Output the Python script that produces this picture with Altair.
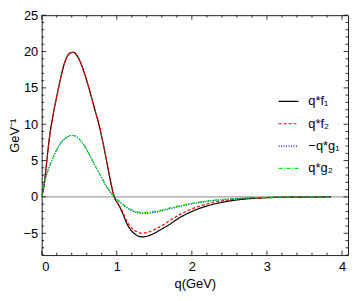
import altair as alt
import pandas as pd

q = [0, 0.03, 0.06, 0.1, 0.15, 0.2, 0.26, 0.32, 0.38, 0.42, 0.46, 0.5, 0.56, 0.62, 0.7, 0.78,
     0.86, 0.92, 0.97, 1.02, 1.08, 1.14, 1.2, 1.27, 1.34, 1.42, 1.5, 1.6, 1.7, 1.8, 1.9, 2.0,
     2.2, 2.4, 2.6, 2.8, 3.0, 3.2, 3.5, 3.85]
f1 = [0, 1.5, 4.2, 7.9, 11.2, 13.8, 16.7, 18.9, 19.8, 19.9, 19.6, 18.9, 17.3, 15.3, 12.3, 9.2,
      5.2, 2.0, -0.1, -1.0, -2.3, -3.8, -4.7, -5.3, -5.5, -5.35, -5.0, -4.4, -3.8, -3.1, -2.5, -2.0,
      -1.25, -0.75, -0.42, -0.22, -0.11, -0.05, -0.015, 0]
f2 = [0, 1.5, 4.2, 7.9, 11.2, 13.8, 16.7, 18.9, 19.8, 19.9, 19.6, 18.9, 17.3, 15.3, 12.3, 9.2,
      5.2, 2.0, -0.1, -0.95, -2.1, -3.45, -4.3, -4.8, -5.0, -4.85, -4.5, -3.95, -3.3, -2.65, -2.1, -1.65,
      -0.98, -0.56, -0.3, -0.16, -0.08, -0.04, -0.01, 0]
g1 = [0, 1.6, 2.9, 4.1, 5.4, 6.5, 7.5, 8.1, 8.42, 8.45, 8.3, 7.95, 7.2, 6.1, 4.5, 3.0,
      1.5, 0.6, -0.05, -0.52, -1.05, -1.55, -1.9, -2.15, -2.27, -2.25, -2.13, -1.92, -1.66, -1.4, -1.17, -0.95,
      -0.62, -0.39, -0.24, -0.13, -0.07, -0.03, -0.01, 0]
g2 = [0, 1.6, 2.9, 4.1, 5.4, 6.5, 7.5, 8.1, 8.42, 8.45, 8.3, 7.95, 7.2, 6.1, 4.5, 3.0,
      1.5, 0.6, -0.05, -0.5, -1.0, -1.45, -1.8, -2.05, -2.15, -2.1, -2.0, -1.8, -1.55, -1.3, -1.08, -0.88,
      -0.57, -0.36, -0.22, -0.12, -0.06, -0.03, -0.01, 0]

series = ["q*f₁", "q*f₂", "−q*g₁", "q*g₂"]
colors = ["#000000", "#ff0000", "#0000ff", "#00e600"]
dashes = [[1, 0], [3, 2], [1, 1.5], [4, 1.5, 1, 1.5]]

x_major = [0, 1, 2, 3, 4]
x_minor = [round(0.2 * i, 1) for i in range(21) if i % 5 != 0]
y_major = [-5, 0, 5, 10, 15, 20, 25]
y_minor = [v for v in range(-8, 26) if v % 5 != 0]

W, H = 309, 242
xdom = [0, 4.08]
ydom = [-8, 25]

rows = []
for name, vals in zip(series, [f1, f2, g1, g2]):
    for qq, vv in zip(q, vals):
        rows.append({"q": qq, "v": vv, "s": name})
df = pd.DataFrame(rows)

xs = alt.Scale(domain=xdom, nice=False, zero=False)
ys = alt.Scale(domain=ydom, nice=False, zero=False)

lines = alt.Chart(df).mark_line(strokeWidth=1.2, interpolate="monotone").encode(
    x=alt.X("q:Q", scale=xs, axis=alt.Axis(values=x_major, title="q(GeV)", ticks=False,
                                           domain=False, grid=False, labelPadding=6,
                                           titlePadding=4, format="d")),
    y=alt.Y("v:Q", scale=ys, axis=alt.Axis(values=y_major, title="GeV⁻¹", ticks=False,
                                           domain=False, grid=False, labelPadding=4,
                                           titlePadding=2)),
    color=alt.Color("s:N", scale=alt.Scale(domain=series, range=colors),
                    legend=alt.Legend(title=None, orient="none", legendX=238, legendY=76,
                                      symbolType="stroke", symbolSize=400,
                                      symbolStrokeWidth=1.2, labelFontSize=13,
                                      labelOffset=9, rowPadding=4.5,
                                      labelFont="Liberation Sans")),
    strokeDash=alt.StrokeDash("s:N", scale=alt.Scale(domain=series, range=dashes), legend=None),
    detail="s:N",
)

zero = alt.Chart(pd.DataFrame({"y": [0]})).mark_rule(color="#888888", strokeWidth=1).encode(
    y=alt.Y("y:Q", scale=ys)
)

def xticks(vals, L):
    d = pd.DataFrame({"t": vals})
    b = alt.Chart(d).mark_rule(color="black", strokeWidth=0.8).encode(
        x=alt.X("t:Q", scale=xs), y=alt.value(H), y2=alt.value(H - L))
    t = alt.Chart(d).mark_rule(color="black", strokeWidth=0.8).encode(
        x=alt.X("t:Q", scale=xs), y=alt.value(0), y2=alt.value(L))
    return b + t

def yticks(vals, L):
    d = pd.DataFrame({"t": vals})
    l = alt.Chart(d).mark_rule(color="black", strokeWidth=0.8).encode(
        y=alt.Y("t:Q", scale=ys), x=alt.value(0), x2=alt.value(L))
    r = alt.Chart(d).mark_rule(color="black", strokeWidth=0.8).encode(
        y=alt.Y("t:Q", scale=ys), x=alt.value(W), x2=alt.value(W - L))
    return l + r

chart = alt.layer(
    zero, xticks(x_major, 4.5), xticks(x_minor, 2.5), yticks(y_major, 4.5), yticks(y_minor, 2.5), lines
).properties(width=W, height=H, padding=0).configure_view(
    stroke="#222222", strokeWidth=1
).configure_axis(
    labelFont="Liberation Sans", titleFont="Liberation Sans", labelFontSize=13,
    titleFontSize=13, titleFontWeight="normal", labelColor="black", titleColor="black"
)

chart.save("out.html", embed_options={"renderer": "svg", "actions": False})
